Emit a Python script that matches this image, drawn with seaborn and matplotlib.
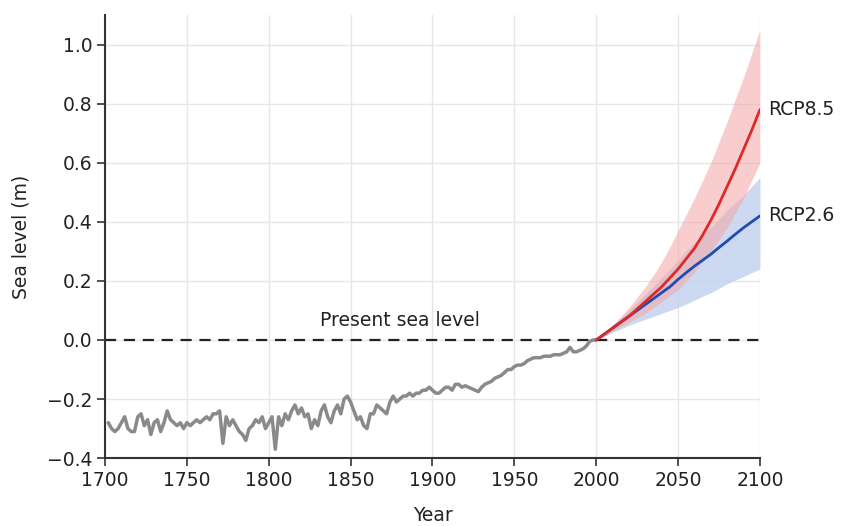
import numpy as np
import pandas as pd
import matplotlib
matplotlib.use("Agg")
import matplotlib.pyplot as plt
import seaborn as sns

# ---- data ----
hist_years = list(range(1702, 2001, 2))
hist_level = [
    -0.28, -0.30, -0.31, -0.30, -0.28, -0.26, -0.30, -0.31, -0.31, -0.26,   # 1702-1720
    -0.25, -0.29, -0.27, -0.32, -0.28, -0.27, -0.31, -0.28, -0.24, -0.27,   # 1722-1740
    -0.28, -0.29, -0.28, -0.30, -0.28, -0.29, -0.28, -0.27, -0.28, -0.27,   # 1742-1760
    -0.26, -0.27, -0.25, -0.25, -0.24, -0.35, -0.26, -0.29, -0.27, -0.29,   # 1762-1780
    -0.31, -0.32, -0.34, -0.30, -0.29, -0.27, -0.28, -0.26, -0.30, -0.28,   # 1782-1800
    -0.26, -0.37, -0.26, -0.29, -0.25, -0.27, -0.24, -0.22, -0.25, -0.23,   # 1802-1820
    -0.26, -0.25, -0.30, -0.27, -0.29, -0.24, -0.22, -0.26, -0.28, -0.24,   # 1822-1840
    -0.22, -0.25, -0.20, -0.19, -0.21, -0.24, -0.27, -0.26, -0.29, -0.30,   # 1842-1860
    -0.25, -0.25, -0.22, -0.23, -0.24, -0.25, -0.21, -0.19, -0.21, -0.20,   # 1862-1880
    -0.19, -0.19, -0.18, -0.19, -0.18, -0.18, -0.17, -0.17, -0.16, -0.17,   # 1882-1900
    -0.18, -0.18, -0.17, -0.16, -0.16, -0.17, -0.15, -0.15, -0.16, -0.155,  # 1902-1920
    -0.16, -0.165, -0.17, -0.175, -0.16, -0.15, -0.145, -0.14, -0.13, -0.125,  # 1922-1940
    -0.12, -0.11, -0.10, -0.10, -0.09, -0.085, -0.085, -0.08, -0.07, -0.065,  # 1942-1960
    -0.06, -0.06, -0.06, -0.055, -0.055, -0.055, -0.05, -0.05, -0.05, -0.045,  # 1962-1980
    -0.04, -0.025, -0.04, -0.04, -0.035, -0.03, -0.02, -0.005, 0.0, 0.0,    # 1982-2000
]

proj_years = list(range(2000, 2101, 5))
rcp85_mean = [0.0, 0.02, 0.04, 0.06, 0.08, 0.105, 0.13, 0.155, 0.18, 0.21, 0.24,
              0.275, 0.31, 0.355, 0.405, 0.46, 0.52, 0.58, 0.645, 0.71, 0.78]
rcp85_high = [0.0, 0.025, 0.05, 0.08, 0.11, 0.145, 0.18, 0.22, 0.265, 0.315, 0.37,
              0.425, 0.48, 0.54, 0.60, 0.67, 0.74, 0.815, 0.89, 0.97, 1.05]
rcp85_low = [0.0, 0.015, 0.03, 0.045, 0.06, 0.075, 0.09, 0.11, 0.13, 0.15, 0.17,
             0.20, 0.23, 0.265, 0.30, 0.34, 0.38, 0.43, 0.48, 0.54, 0.60]
rcp26_mean = [0.0, 0.02, 0.04, 0.06, 0.08, 0.10, 0.12, 0.14, 0.16, 0.18, 0.205,
              0.228, 0.25, 0.27, 0.29, 0.313, 0.335, 0.358, 0.38, 0.40, 0.42]
rcp26_high = [0.0, 0.025, 0.05, 0.075, 0.10, 0.128, 0.155, 0.183, 0.21, 0.24, 0.27,
              0.30, 0.33, 0.355, 0.38, 0.41, 0.44, 0.465, 0.49, 0.52, 0.55]
rcp26_low = [0.0, 0.012, 0.025, 0.037, 0.05, 0.06, 0.07, 0.08, 0.09, 0.10, 0.11,
             0.122, 0.135, 0.148, 0.16, 0.175, 0.19, 0.203, 0.215, 0.228, 0.24]

x_ticks = [1700, 1750, 1800, 1850, 1900, 1950, 2000, 2050, 2100]
y_ticks = [-0.4, -0.2, 0.0, 0.2, 0.4, 0.6, 0.8, 1.0]

hist_df = pd.DataFrame({"Year": hist_years, "Level": hist_level})
proj_df = pd.DataFrame({"Year": proj_years, "r85": rcp85_mean, "r85h": rcp85_high,
                        "r85l": rcp85_low, "r26": rcp26_mean, "r26h": rcp26_high,
                        "r26l": rcp26_low})

# ---- plot ----
sns.set_theme(style="whitegrid")
plt.rcParams['font.family'] = ['DejaVu Sans']

FS = 13.5
fig = plt.figure(figsize=(8.51, 5.26), dpi=100)
ax = fig.add_axes([0.1234, 0.129, 0.893 - 0.1234, 0.9715 - 0.129])

blue_fill = "#c3d3ee"
red_fill = "#f5a5a5"
ax.fill_between(proj_df["Year"], proj_df["r26l"], proj_df["r26h"], color=blue_fill,
                alpha=0.85, linewidth=0, zorder=1)
ax.fill_between(proj_df["Year"], proj_df["r85l"], proj_df["r85h"], color=red_fill,
                alpha=0.55, linewidth=0, zorder=1)

ax.axhline(0, color="#222222", linestyle=(0, (5, 3.5)), linewidth=1.6, zorder=2)

sns.lineplot(data=hist_df, x="Year", y="Level", ax=ax, color="#8a8a8a", linewidth=2.5, zorder=3)
sns.lineplot(data=proj_df, x="Year", y="r26", ax=ax, color="#1f4cb0", linewidth=2.0, zorder=4)
sns.lineplot(data=proj_df, x="Year", y="r85", ax=ax, color="#dc2a2a", linewidth=2.0, zorder=5)

ax.set_xlim(1700, 2100)
ax.set_ylim(-0.4, 1.1)
ax.set_xticks(x_ticks)
ax.set_yticks(y_ticks)
ax.set_yticklabels([f"{v:.1f}".replace("-", "\u2212") for v in y_ticks])
ax.grid(True, color="#e6e6e6", linewidth=1.0)
ax.set_axisbelow(True)

for s in ["top", "right"]:
    ax.spines[s].set_visible(False)
for s in ["left", "bottom"]:
    ax.spines[s].set_visible(True)
    ax.spines[s].set_color("#333333")
    ax.spines[s].set_linewidth(1.5)

ax.tick_params(axis="both", which="both", direction="out", length=6, width=1.2,
               color="#333333", labelsize=FS, labelcolor="#222222", pad=3,
               bottom=True, left=True)

ax.set_xlabel("Year", fontsize=FS, color="#222222", labelpad=12)
ax.set_ylabel("Sea level (m)", fontsize=FS, color="#222222", labelpad=12)

ax.text(1880, 0.035, "Present sea level", fontsize=FS, color="#222222",
        ha="center", va="bottom")
ax.text(2105, rcp85_mean[-1], "RCP8.5", fontsize=FS, color="#222222",
        ha="left", va="center", clip_on=False)
ax.text(2105, rcp26_mean[-1], "RCP2.6", fontsize=FS, color="#222222",
        ha="left", va="center", clip_on=False)

fig.savefig("out.png", dpi=100, facecolor="white")
